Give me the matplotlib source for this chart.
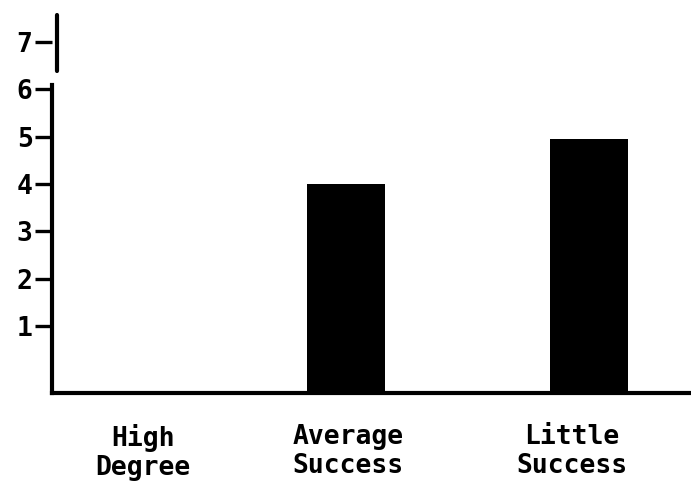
import numpy as np
import matplotlib
matplotlib.use("Agg")
import matplotlib.pyplot as plt

# datos
categorias = ["High\nDegree", "Average\nSuccess", "Little\nSuccess"]
valores = [0, 4.0, 4.95]
pos_barras = [0, 1, 2]
pos_etiquetas = [0.165, 1.01, 1.93]
y_ticks = [1, 2, 3, 4, 5, 6, 7]

piso = -0.42  # la linea base dibujada queda por debajo del cero
negro = "black"
fuente = "DejaVu Sans Mono"

fig = plt.figure(figsize=(6.91, 4.9), dpi=100)
ax = fig.add_axes([0.0753, 0.198, 0.9247, 0.771])

vals = np.array(valores)
x = np.array(pos_barras)
m = vals > 0
ax.bar(x[m], vals[m] - piso, bottom=piso, width=0.32, color=negro)

ax.set_xlim(-0.21, 2.42)
ax.set_ylim(piso, 7.57)

ax.spines["top"].set_visible(False)
ax.spines["right"].set_visible(False)
ax.spines["left"].set_linewidth(3)
ax.spines["bottom"].set_linewidth(3)
ax.spines["left"].set_bounds(piso, 6.1)
# tramo superior del eje, separado y un poco corrido
ax.plot([-0.19, -0.19], [6.4, 7.57], color=negro, lw=3, clip_on=False,
        solid_capstyle="round")

ax.set_yticks(y_ticks)
ax.set_yticklabels([str(v) for v in y_ticks], fontfamily=fuente,
                   fontweight="bold", fontsize=19)
ax.tick_params(axis="y", length=12, width=2.4, pad=2)

ax.set_xticks(pos_etiquetas)
ax.set_xticklabels(categorias, fontfamily=fuente, fontweight="bold",
                   fontsize=19, linespacing=1.15)
ax.tick_params(axis="x", length=0, pad=22)

fig.savefig("out.png", dpi=100)
